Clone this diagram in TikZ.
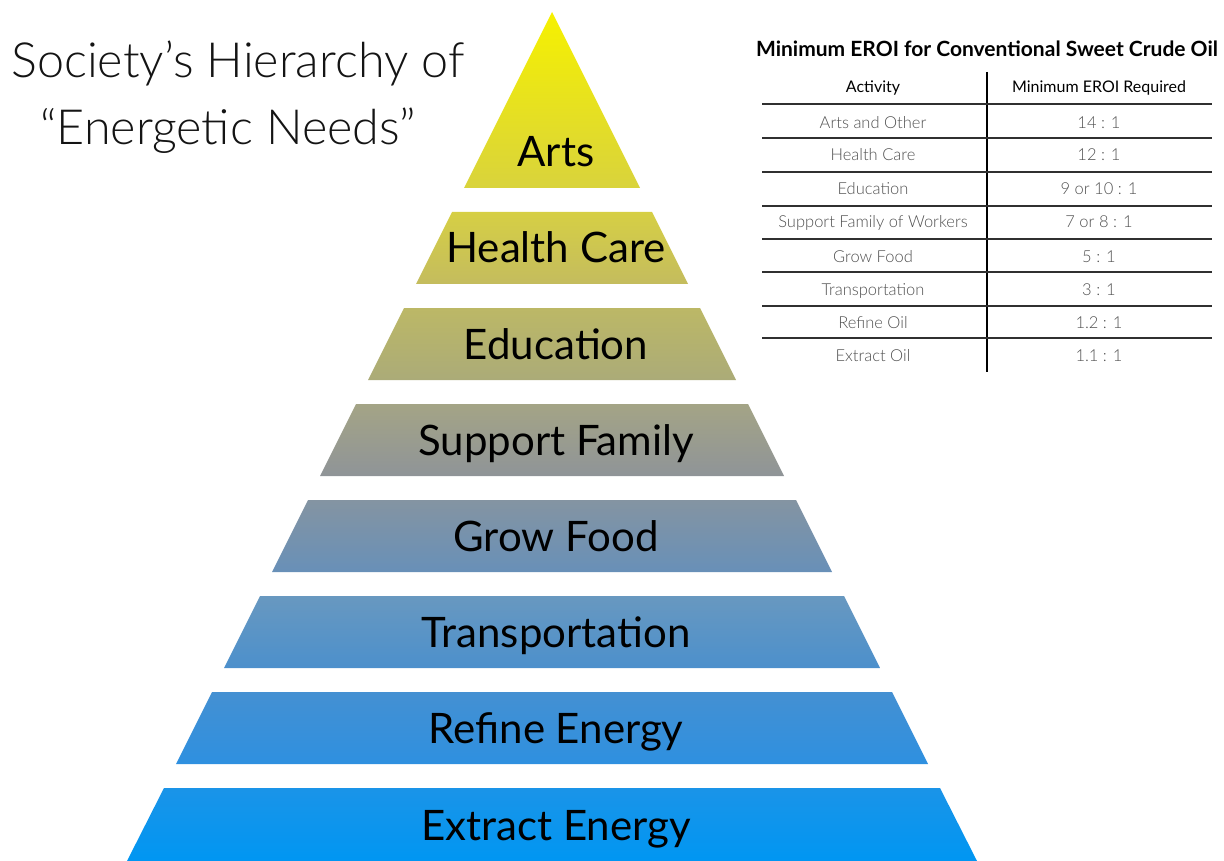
\documentclass[tikz,border=0pt]{standalone}
\usepackage{fontspec}
\setmainfont{Lato}
\newfontfamily\lightfont{Lato Light}
\definecolor{cA1}{HTML}{F6F100}\definecolor{cA2}{HTML}{D9D33C}
\definecolor{cB1}{HTML}{D6CF44}\definecolor{cB2}{HTML}{C4BC5E}
\definecolor{cC1}{HTML}{BCB866}\definecolor{cC2}{HTML}{ABAB78}
\definecolor{cD1}{HTML}{A4A486}\definecolor{cD2}{HTML}{8F9498}
\definecolor{cE1}{HTML}{8494A2}\definecolor{cE2}{HTML}{6890B8}
\definecolor{cF1}{HTML}{6898C0}\definecolor{cF2}{HTML}{4C90CC}
\definecolor{cG1}{HTML}{4490D2}\definecolor{cG2}{HTML}{2E90E0}
\definecolor{cH1}{HTML}{1A94E8}\definecolor{cH2}{HTML}{0096F2}
\definecolor{celltext}{HTML}{505050}
\definecolor{rule}{HTML}{303030}
\begin{document}
\begin{tikzpicture}[x=1pt,y=-1pt,
  tierlabel/.style={font=\fontsize{42}{42}\selectfont, anchor=base, inner sep=0pt, text=black},
  titletext/.style={font=\lightfont\fontsize{48.5}{48.5}\selectfont, anchor=base, inner sep=0pt, text=black!92},
  cell/.style={font=\lightfont\fontsize{16.5}{16.5}\selectfont, anchor=base, inner sep=0pt, text=celltext},
  headcell/.style={font=\fontsize{16}{16}\selectfont, anchor=base, inner sep=0pt, text=black},
  tabrule/.style={draw=rule, line width=1.6pt},
  tabvrule/.style={draw=black, line width=2pt}]
\useasboundingbox (0,0) rectangle (1224,861);

% pyramid tiers
\shade[top color=cA1, bottom color=cA2] (552,12) -- (640,188) -- (464,188) -- cycle;
\shade[top color=cB1, bottom color=cB2] (452,212) -- (652,212) -- (688,284) -- (416,284) -- cycle;
\shade[top color=cC1, bottom color=cC2] (404,308) -- (700,308) -- (736,380) -- (368,380) -- cycle;
\shade[top color=cD1, bottom color=cD2] (356,404) -- (748,404) -- (784,476) -- (320,476) -- cycle;
\shade[top color=cE1, bottom color=cE2] (308,500) -- (796,500) -- (832,572) -- (272,572) -- cycle;
\shade[top color=cF1, bottom color=cF2] (260,596) -- (844,596) -- (880,668) -- (224,668) -- cycle;
\shade[top color=cG1, bottom color=cG2] (212,692) -- (892,692) -- (928,764) -- (176,764) -- cycle;
\shade[top color=cH1, bottom color=cH2] (164,788) -- (940,788) -- (977,861) -- (127,861) -- cycle;

\node[tierlabel] (arts) at (556,167) {Arts};
\node[tierlabel] (health) at (556,263) {Health Care};
\node[tierlabel] (edu) at (556,359) {Education};
\node[tierlabel] (family) at (556,455) {Support Family};
\node[tierlabel] (food) at (556,551) {Grow Food};
\node[tierlabel] (transport) at (556,647) {Transportation};
\node[tierlabel] (refine) at (556,743) {Refine Energy};
\node[tierlabel] (extract) at (556,840) {Extract Energy};

% title
\node[titletext] (t1) at (238,78) {Society’s Hierarchy of};
\node[titletext] (t2) at (228,145) {“Energetic Needs”};

% table
\node[font=\bfseries\fontsize{21}{21}\selectfont, anchor=base, inner sep=0pt] (tabtitle) at (987,57) {Minimum EROI for Conventional Sweet Crude Oil};
\node[headcell] (h1) at (873,93) {Activity};
\node[headcell] (h2) at (1099,93) {Minimum EROI Required};

\coordinate (vtop) at (987,72);
\coordinate (vbot) at (987,372);
\draw[tabvrule] (vtop) -- (vbot);
\foreach \y in {104,138,172,206,239,272,306,338}{
  \draw[tabrule] (762,\y) -- (1212,\y);
}

\node[cell] (a1) at (873,129) {Arts and Other};
\node[cell] (b1) at (1099,129) {14 : 1};
\node[cell] (a2) at (873,161) {Health Care};
\node[cell] (b2) at (1099,161) {12 : 1};
\node[cell] (a3) at (873,195) {Education};
\node[cell] (b3) at (1099,195) {9 or 10 : 1};
\node[cell] (a4) at (873,228) {Support Family of Workers};
\node[cell] (b4) at (1099,228) {7 or 8 : 1};
\node[cell] (a5) at (873,262) {Grow Food};
\node[cell] (b5) at (1099,262) {5 : 1};
\node[cell] (a6) at (873,295) {Transportation};
\node[cell] (b6) at (1099,295) {3 : 1};
\node[cell] (a7) at (873,328) {Refine Oil};
\node[cell] (b7) at (1099,328) {1.2 : 1};
\node[cell] (a8) at (873,361) {Extract Oil};
\node[cell] (b8) at (1099,361) {1.1 : 1};
\end{tikzpicture}
\end{document}
